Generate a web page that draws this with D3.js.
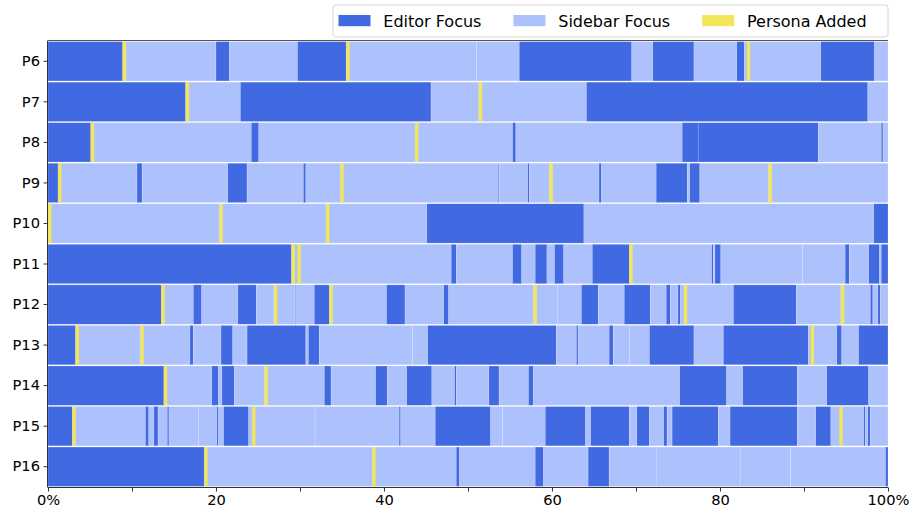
<!DOCTYPE html>
<html>
<head>
<meta charset="utf-8">
<script src="https://cdn.jsdelivr.net/npm/d3@7"></script>
<style>
  html, body { margin: 0; padding: 0; background: #fff; }
  svg { display: block; font-family: "DejaVu Sans", sans-serif; }
</style>
</head>
<body>
<svg id="chart" width="911" height="512"></svg>
<script>
// ---------------- DATA ----------------
const participants = ["P6","P7","P8","P9","P10","P11","P12","P13","P14","P15","P16"];
const stateLabels = { E: "Editor Focus", S: "Sidebar Focus", Y: "Persona Added" };
const xTicks = [0,10,20,30,40,50,60,70,80,90,100];
const xTickLabels = { 0: "0%", 20: "20", 40: "40", 60: "60", 80: "80", 100: "100%" };

// segment boundaries (% of session) and state per segment (E = editor, S = sidebar)
const p6Bounds  = [0,8.9,20.0,21.6,29.7,35.5,51.0,56.1,69.5,72.0,76.9,82.0,82.9,92.0,98.4,100];
const p6States  = "ESESESSESESESES";
const p6Persona = [8.9,35.5,83.2];

const p7Bounds  = [0,16.4,22.9,45.6,51.3,64.1,97.6,100];
const p7States  = "ESESSES";
const p7Persona = [16.4,51.3];

const p8Bounds  = [0,5.1,24.2,25.1,43.7,55.3,55.7,75.5,77.4,91.7,99.2,99.4,100];
const p8States  = "ESESSESEESES";
const p8Persona = [5.1,43.7];

const p9Bounds  = [0,1.2,10.6,11.2,21.4,23.7,30.4,30.7,34.8,53.6,53.7,57.1,57.3,59.7,65.6,65.9,72.4,76.1,76.4,77.6,85.8,100];
const p9States  = "ESESESESSESESSESESESS";
const p9Persona = [1.2,34.8,59.7,85.8];

const p10Bounds  = [0,20.4,33.1,45.1,63.8,98.3,100];
const p10States  = "SSSESE";
const p10Persona = [0,20.4,33.1];

const p11Bounds  = [0,29.0,48.0,48.6,55.3,56.4,58.0,59.4,60.3,61.4,64.8,69.2,79.0,79.2,79.4,80.1,89.8,94.9,95.4,97.7,99.0,99.2,100];
const p11States  = "ESESESESESESESESSESESE";
const p11Persona = [29.0,29.7,69.2];

const p12Bounds  = [0,13.5,17.3,18.3,22.6,24.8,26.9,29.4,29.5,31.7,33.5,40.3,42.5,47.1,47.7,57.8,60.7,63.5,65.5,68.6,71.7,73.6,74.1,75.0,75.3,81.6,89.1,94.4,97.9,98.2,98.8,99.1,100];
const p12States  = "ESESESSESESESESSSESESESESESSESES";
const p12Persona = [13.5,26.9,33.5,57.8,75.7,94.4];

const p13Bounds  = [0,3.3,11.0,16.9,17.3,20.6,22.0,23.7,30.7,31.0,32.3,43.4,45.2,60.5,62.9,63.1,66.8,67.3,69.2,71.6,76.9,80.4,90.5,93.9,94.5,96.5,100];
const p13States  = "ESSESESESESSESESESSESESESE";
const p13Persona = [3.3,11.0,90.8];

const p14Bounds  = [0,13.8,19.5,20.3,20.7,22.2,25.8,32.9,33.7,39.0,40.4,42.7,45.7,48.4,48.6,52.5,53.7,57.2,57.8,75.2,80.8,82.7,89.2,92.7,97.7,100];
const p14States  = "ESESESSESESESESESESESESES";
const p14Persona = [13.8,25.8];

const p15Bounds  = [0,2.9,11.6,12.0,12.6,13.1,14.2,14.4,17.9,20.1,20.3,20.9,23.9,31.8,41.8,42.0,46.1,52.7,54.1,59.2,64.0,64.6,69.2,70.1,71.6,73.3,73.7,74.3,79.8,81.2,89.2,91.4,93.2,97.1,97.3,97.6,97.9,100];
const p15States  = "ESESESESSESESSESESSESESESESESESESESES";
const p15Persona = [2.9,24.3,94.2];

const p16Bounds  = [0,18.6,38.6,48.6,49.0,58.0,59.0,64.3,66.8,72.4,82.4,88.4,99.7,100];
const p16States  = "ESSESESESSSSE";
const p16Persona = [18.6,38.6];

// ---------------- BUILD ----------------
const allBounds  = [p6Bounds,p7Bounds,p8Bounds,p9Bounds,p10Bounds,p11Bounds,p12Bounds,p13Bounds,p14Bounds,p15Bounds,p16Bounds];
const allStates  = [p6States,p7States,p8States,p9States,p10States,p11States,p12States,p13States,p14States,p15States,p16States];
const allPersona = [p6Persona,p7Persona,p8Persona,p9Persona,p10Persona,p11Persona,p12Persona,p13Persona,p14Persona,p15Persona,p16Persona];

const segments = [];
const personaEvents = [];
participants.forEach((p, i) => {
  const b = allBounds[i], s = allStates[i];
  for (let k = 0; k < s.length; k++) segments.push({ p, state: s[k], start: b[k], end: b[k + 1] });
  allPersona[i].forEach(t => personaEvents.push({ p, t }));
});

const colors = { E: "#4169e1", S: "#adc1fc", Y: "#f2e65a" };
const personaWidth = 0.4;

const svg = d3.select("#chart");
const margin = { left: 48, right: 23, top: 41, bottom: 25 };
const W = 911, H = 512;

const x = d3.scaleLinear().domain([0, 100]).range([margin.left, W - margin.right]);
const y = d3.scaleBand().domain(participants).range([margin.top, H - margin.bottom]).padding(0);

const bw = y.bandwidth();

// segments
svg.append("g").selectAll("rect").data(segments).join("rect")
  .attr("x", d => x(d.start))
  .attr("y", d => y(d.p) + 0.6)
  .attr("width", d => x(d.end) - x(d.start))
  .attr("height", bw - 1.2)
  .attr("fill", d => colors[d.state])
  .attr("stroke", "#ffffff")
  .attr("stroke-opacity", 0.35)
  .attr("stroke-width", 0.5);

// persona markers
svg.append("g").selectAll("rect").data(personaEvents).join("rect")
  .attr("x", d => x(d.t))
  .attr("y", d => y(d.p) + 0.6)
  .attr("width", d => x(d.t + personaWidth) - x(d.t))
  .attr("height", bw - 1.2)
  .attr("fill", colors.Y);

// spines
const spine = svg.append("g").attr("stroke", "#333").attr("stroke-width", 1).attr("fill", "none");
spine.append("line").attr("x1", x(0) - 0.5).attr("x2", x(0) - 0.5).attr("y1", margin.top).attr("y2", H - margin.bottom);
spine.append("line").attr("x1", x(0) - 0.5).attr("x2", x(100)).attr("y1", H - margin.bottom + 0.5).attr("y2", H - margin.bottom + 0.5);
spine.append("line").attr("x1", x(0) - 0.5).attr("x2", x(100)).attr("y1", margin.top - 0.5).attr("y2", margin.top - 0.5).attr("stroke", "#555");

// x axis
const xAxis = d3.axisBottom(x).tickValues(xTicks).tickSize(4).tickPadding(3.5)
  .tickFormat(d => xTickLabels[d] !== undefined ? xTickLabels[d] : "");
const gx = svg.append("g").attr("transform", `translate(0,${H - margin.bottom + 0.5})`).call(xAxis);
gx.select(".domain").remove();
gx.selectAll("line").attr("stroke", "#333");
gx.selectAll("text").attr("font-size", 14.67).attr("fill", "#000").attr("font-family", "DejaVu Sans");

// y axis
const yAxis = d3.axisLeft(y).tickSize(4).tickPadding(3.5);
const gy = svg.append("g").attr("transform", `translate(${x(0) - 0.5},0)`).call(yAxis);
gy.select(".domain").remove();
gy.selectAll("line").attr("stroke", "#333");
gy.selectAll("text").attr("font-size", 14.67).attr("fill", "#000").attr("font-family", "DejaVu Sans");

// legend
const legendKeys = ["E", "S", "Y"];
const lg = svg.append("g");
const box = lg.append("rect").attr("x", 333).attr("y", 5).attr("width", x(100) - 333).attr("height", 32)
  .attr("rx", 3).attr("fill", "#fff").attr("fill-opacity", 0.8).attr("stroke", "#d6d6d6").attr("stroke-width", 1);
let cx = 338.5;
legendKeys.forEach(k => {
  lg.append("rect").attr("x", cx).attr("y", 15).attr("width", 32).attr("height", 11.2).attr("fill", colors[k]);
  const t = lg.append("text").attr("x", cx + 32 + 12.8).attr("y", 26.5).attr("font-size", 16)
    .attr("font-family", "DejaVu Sans").attr("fill", "#000").text(stateLabels[k]);
  cx += 32 + 12.8 + t.node().getComputedTextLength() + 32;
});
</script>
</body>
</html>
